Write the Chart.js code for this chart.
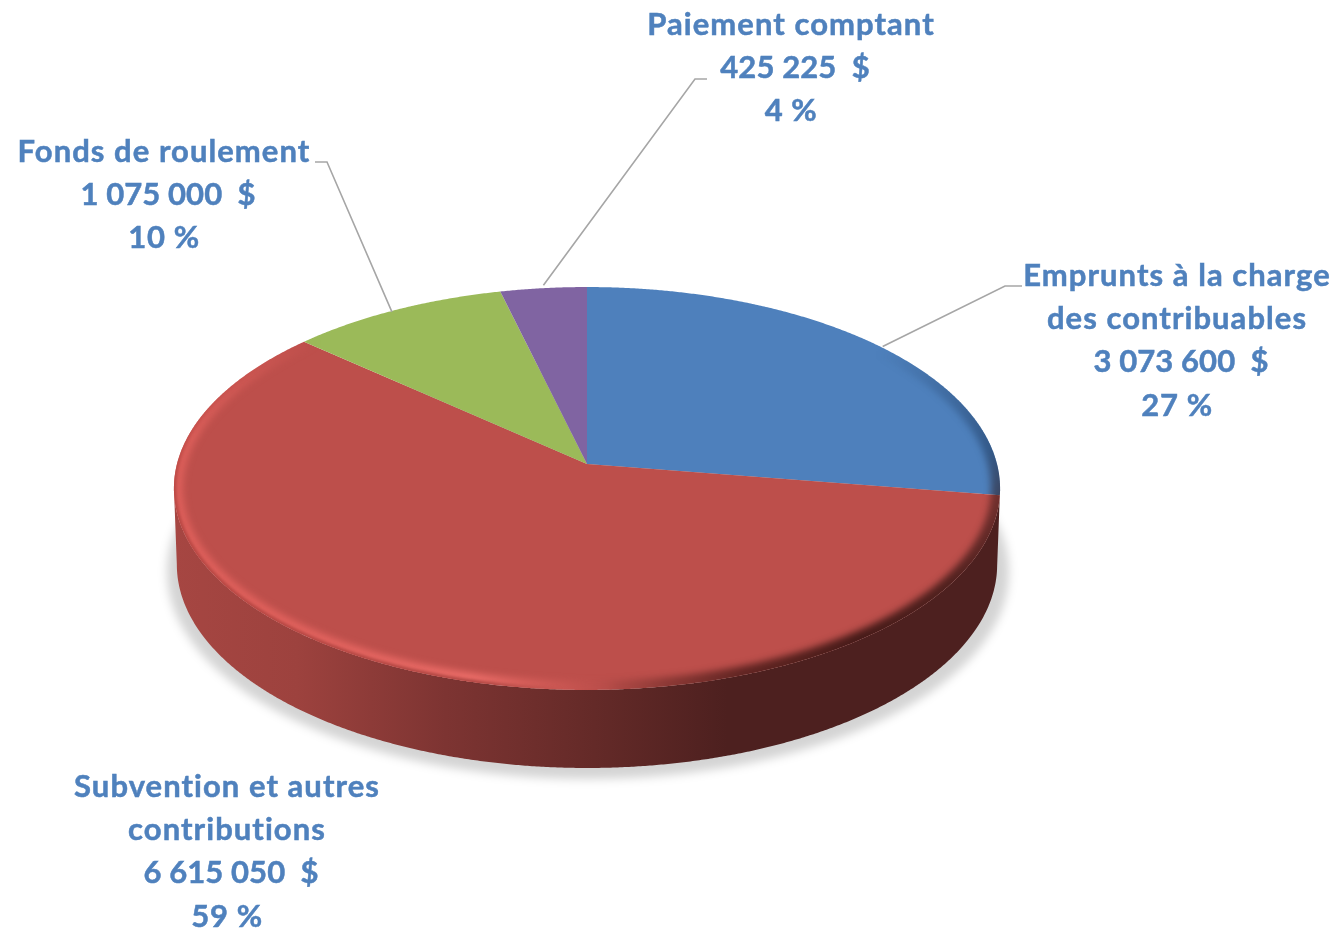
<!DOCTYPE html>
<html lang="fr">
<head>
<meta charset="utf-8">
<title>Sources de financement</title>
<script src="https://cdn.jsdelivr.net/npm/chart.js@4/dist/chart.umd.js"></script>
<style>
html,body{margin:0;padding:0;background:#fff}
#wrap{width:1344px;height:929px;position:relative}
canvas{display:block}
</style>
</head>
<body>
<div id="wrap"><canvas id="c" width="1344" height="929"></canvas></div>
<script>
// ---- data ----
const categories = ['Emprunts à la charge des contribuables', 'Subvention et autres contributions', 'Fonds de roulement', 'Paiement comptant'];
const categoryLines = [['Emprunts à la charge', 'des contribuables'], ['Subvention et autres', 'contributions'], ['Fonds de roulement'], ['Paiement comptant']];
const values = [3073600, 6615050, 1075000, 425225];
const colors = ['#4e80bc', '#bd4f4b', '#9bba59', '#8064a2'];

// ---- layout (not data) ----
const labelCenters = [[1177, 276], [227, 787], [164, 152], [791, 25]];
const lineStep = 43.2;
const leaderElbows = [[[1005, 286], [1022, 286]], null, [[327, 162], [315, 162]], [[695, 79], [707, 79]]];
const leaderNudge = [[7, 2], null, [-4, 2], [0, -3]];
const TILT = 0.4841, PERSP = -0.1216;   // plane projection of the pie
const ellipseCenterY = 489;

function project(arc, t) {
  const u = Math.cos(t), v = Math.sin(t), w = 1 + PERSP * v, R = arc.outerRadius;
  return [arc.x + R * u / w, arc.y + R * TILT * v / w];
}
function lower(arc, p) {
  return [arc.x + (p[0] - arc.x) * 0.993, p[1] + 76 + (p[1] - ellipseCenterY) * 0.01];
}
function facePath(ctx, arc) {
  ctx.beginPath();
  ctx.moveTo(arc.x, arc.y);
  const steps = Math.max(2, Math.ceil((arc.endAngle - arc.startAngle) / 0.005));
  for (let i = 0; i <= steps; i++) {
    const p = project(arc, arc.startAngle + (arc.endAngle - arc.startAngle) * i / steps);
    ctx.lineTo(p[0], p[1]);
  }
  ctx.closePath();
}
function rimPath(ctx, arc) {
  ctx.beginPath();
  for (let i = 0; i <= 720; i++) {
    const p = project(arc, i / 720 * Math.PI * 2);
    i ? ctx.lineTo(p[0], p[1]) : ctx.moveTo(p[0], p[1]);
  }
  ctx.closePath();
}
function shade(hex, f) {
  const n = parseInt(hex.slice(1), 16);
  return `rgb(${Math.round((n >> 16) * f)},${Math.round(((n >> 8) & 255) * f)},${Math.round((n & 255) * f)})`;
}
function conic(ctx, arc, stops) {
  const g = ctx.createConicGradient(0, arc.x, ellipseCenterY);
  stops.forEach(s => g.addColorStop(s[0], s[1]));
  return g;
}

// Top face of each slice, with its soft rim, drawn from the element's own angles
Chart.ArcElement.prototype.draw = function (ctx) {
  ctx.save();
  facePath(ctx, this);
  ctx.fillStyle = this.options.backgroundColor;
  ctx.fill();
  facePath(ctx, this);
  ctx.clip();
  // wide soft highlight / shade
  ctx.filter = 'blur(3.5px)';
  ctx.strokeStyle = conic(ctx, this, [
    [0, 'rgba(40,18,18,0.5)'], [0.04, 'rgba(45,18,16,0.75)'], [0.08, 'rgba(50,18,16,0.85)'], [0.14, 'rgba(60,20,18,0.7)'],
    [0.19, 'rgba(70,25,22,0.4)'], [0.225, 'rgba(80,30,28,0.15)'], [0.25, 'rgba(240,110,105,0.06)'],
    [0.287, 'rgba(240,110,105,0.4)'], [0.337, 'rgba(245,115,110,0.85)'], [0.44, 'rgba(240,105,100,0.7)'],
    [0.52, 'rgba(240,105,100,0.6)'], [0.58, 'rgba(240,105,100,0)'], [0.93, 'rgba(25,50,85,0)'],
    [0.985, 'rgba(25,50,85,0.5)'], [1, 'rgba(40,18,18,0.5)']
  ]);
  ctx.lineWidth = 18;
  rimPath(ctx, this);
  ctx.stroke();
  // darker outermost line of the lit part of the bevel
  ctx.filter = 'blur(1.5px)';
  ctx.strokeStyle = conic(ctx, this, [
    [0, 'rgba(150,60,55,0)'], [0.27, 'rgba(150,60,55,0)'], [0.33, 'rgba(150,55,52,0.7)'],
    [0.50, 'rgba(170,62,58,0.7)'], [0.56, 'rgba(170,62,58,0)'], [1, 'rgba(150,60,55,0)']
  ]);
  ctx.lineWidth = 5;
  rimPath(ctx, this);
  ctx.stroke();
  ctx.restore();
};

const VIS_A = 7 * Math.PI / 180, VIS_B = 173 * Math.PI / 180;
const sidePlugin = {
  id: 'side',
  beforeDatasetsDraw(chart) {
    const ctx = chart.ctx, arcs = chart.getDatasetMeta(0).data, first = arcs[0];
    // cast shadow
    ctx.save();
    ctx.filter = 'blur(5px)';
    ctx.fillStyle = 'rgba(0,0,0,0.17)';
    ctx.beginPath();
    ctx.ellipse(first.x + 1, 572, 421, 207, 0, 0, Math.PI * 2);
    ctx.fill();
    ctx.restore();
    // side wall
    arcs.forEach((arc, idx) => {
      const a = Math.max(arc.startAngle, VIS_A), b = Math.min(arc.endAngle, VIS_B);
      if (b <= a) return;
      const g = ctx.createLinearGradient(173, 0, 1000, 0);
      [[0, .88], [.15, .83], [.33, .66], [.51, .53], [.67, .41], [1, .41]].forEach(s => g.addColorStop(s[0], shade(colors[idx], s[1])));
      ctx.save();
      ctx.fillStyle = g;
      ctx.beginPath();
      const n = Math.ceil((b - a) / 0.005);
      for (let i = 0; i <= n; i++) { const p = project(arc, a + (b - a) * i / n); i ? ctx.lineTo(p[0], p[1]) : ctx.moveTo(p[0], p[1]); }
      for (let i = n; i >= 0; i--) { const q = lower(arc, project(arc, a + (b - a) * i / n)); ctx.lineTo(q[0], q[1]); }
      ctx.closePath();
      ctx.fill();
      ctx.restore();
    });
  }
};

const fmtMoney = v => String(v).replace(/\B(?=(\d{3})+(?!\d))/g, ' ') + '  $';
const total = values.reduce((s, v) => s + v, 0);

const labelPlugin = {
  id: 'labels',
  afterDatasetsDraw(chart) {
    const ctx = chart.ctx, arcs = chart.getDatasetMeta(0).data;
    ctx.save();
    // leader lines
    ctx.strokeStyle = '#a6a6a6';
    ctx.lineWidth = 1.6;
    arcs.forEach((arc, i) => {
      if (!leaderElbows[i]) return;
      const p = project(arc, (arc.startAngle + arc.endAngle) / 2);
      ctx.beginPath();
      ctx.moveTo(p[0] + leaderNudge[i][0], p[1] + leaderNudge[i][1]);
      leaderElbows[i].forEach(e => ctx.lineTo(e[0], e[1]));
      ctx.stroke();
    });
    // labels
    ctx.fillStyle = '#4f81bd';
    ctx.strokeStyle = '#4f81bd';
    ctx.lineWidth = 0.5;
    ctx.font = 'bold 31px Lato, Carlito, sans-serif';
    ctx.textAlign = 'center';
    ctx.textBaseline = 'middle';
    const put = (t, x, y, sp) => {
      ctx.letterSpacing = sp + 'px';
      ctx.fillText(t, x, y);
      ctx.strokeText(t, x, y);
    };
    values.forEach((v, i) => {
      const cx = labelCenters[i][0], cy = labelCenters[i][1];
      const names = categoryLines[i];
      names.forEach((t, j) => put(t, cx, cy + j * lineStep, 1.05));
      put(fmtMoney(v), cx + 4, cy + names.length * lineStep, 0.1);
      put(Math.round(v / total * 100) + ' %', cx, cy + (names.length + 1) * lineStep, 0.6);
    });
    ctx.restore();
  }
};

new Chart(document.getElementById('c'), {
  type: 'pie',
  data: { labels: categories, datasets: [{ data: values, backgroundColor: colors, borderWidth: 0 }] },
  options: {
    responsive: false,
    animation: false,
    layout: { padding: { left: 0, right: 170, top: 54, bottom: 55 } },
    plugins: { legend: { display: false }, tooltip: { enabled: false } }
  },
  plugins: [sidePlugin, labelPlugin]
});
</script>
</body>
</html>
